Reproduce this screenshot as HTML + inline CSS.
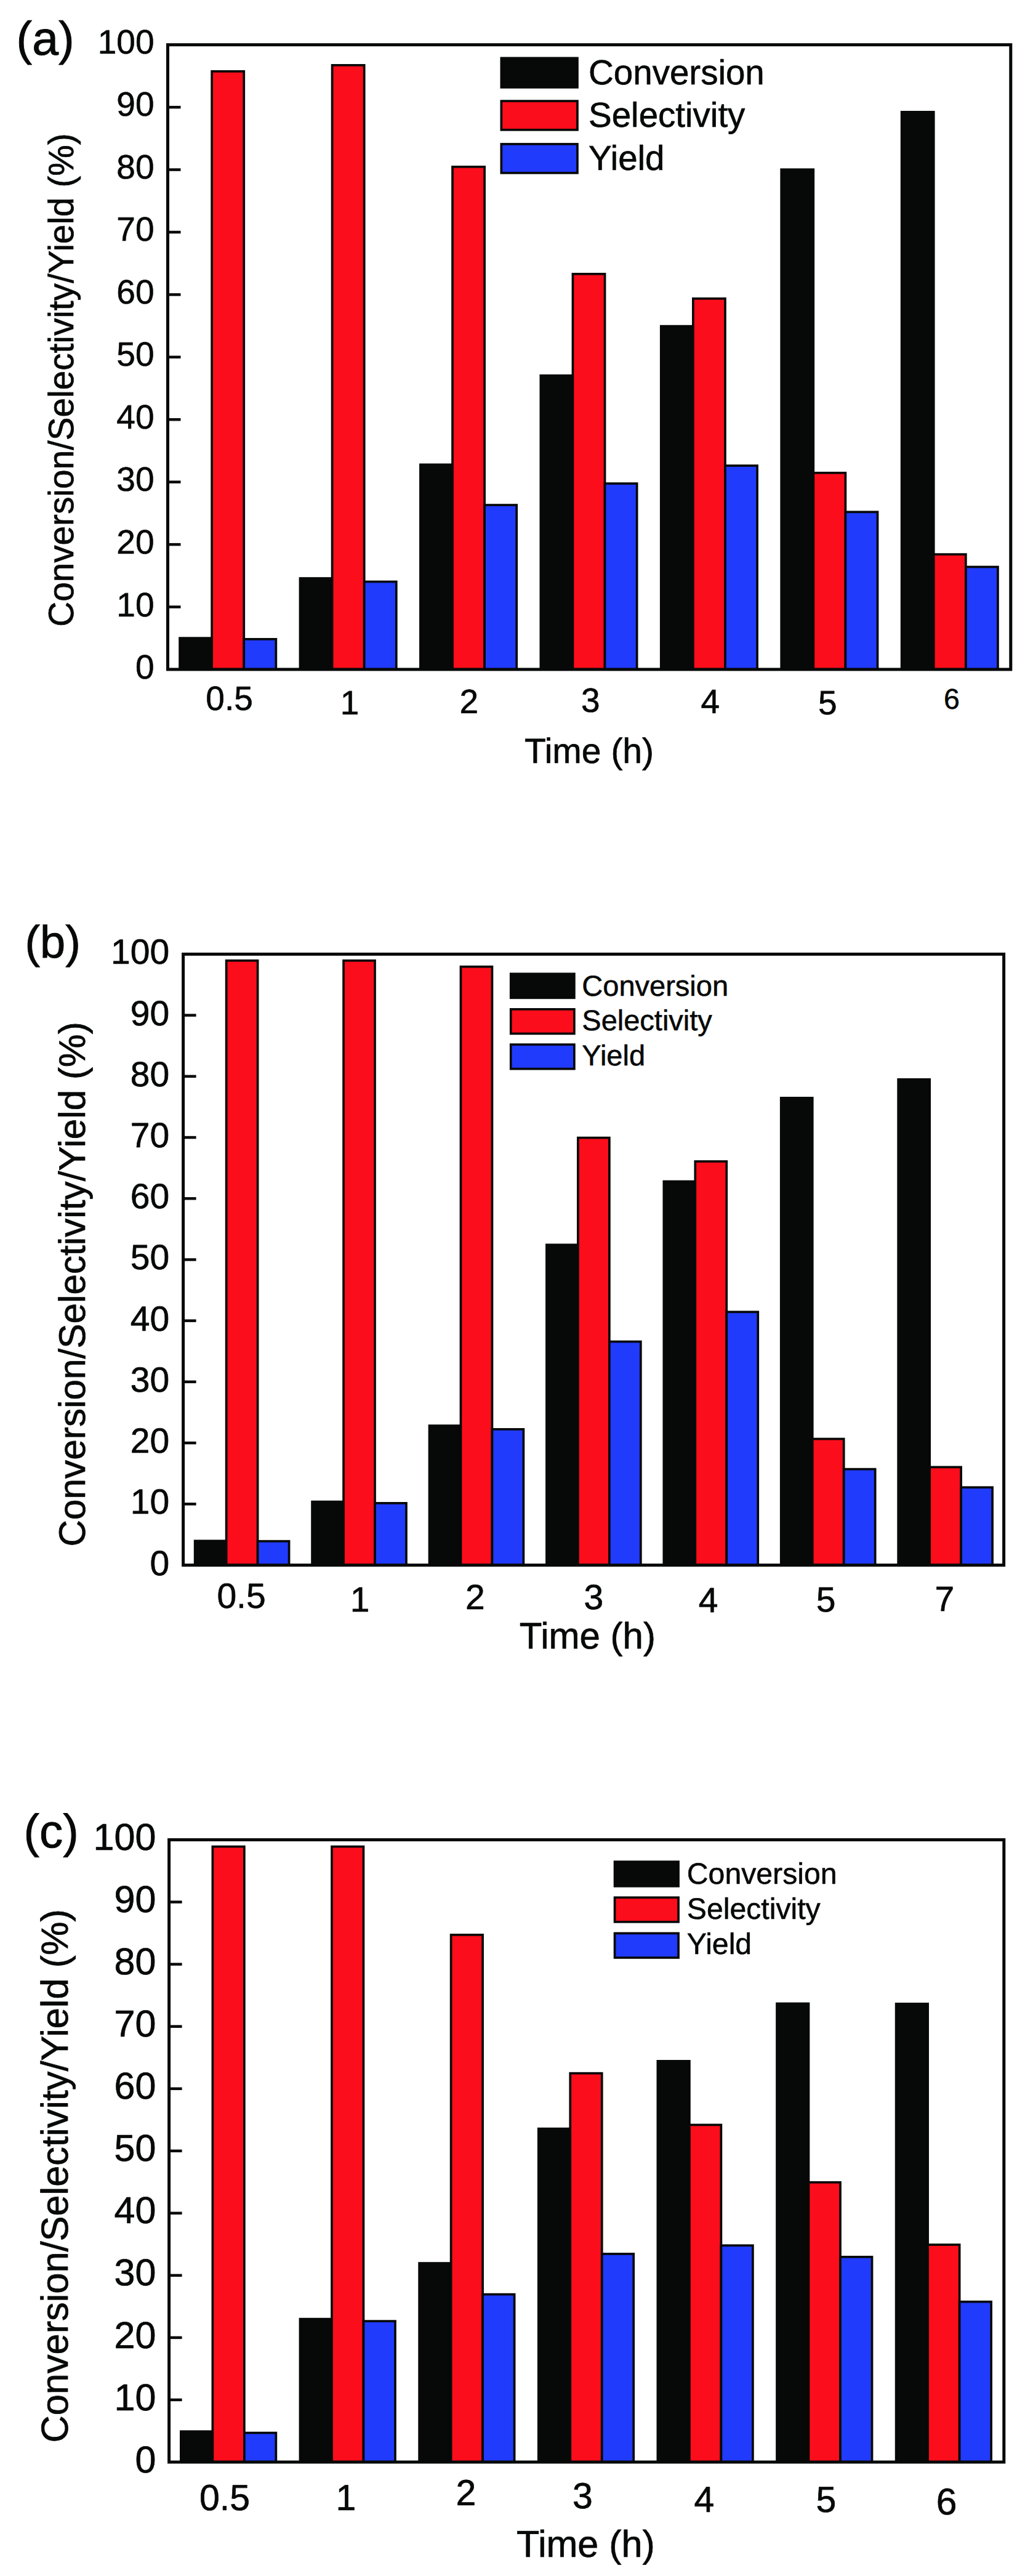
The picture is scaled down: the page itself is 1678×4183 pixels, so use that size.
<!DOCTYPE html>
<html lang="en"><head><meta charset="utf-8"><title>Conversion / Selectivity / Yield vs Time</title>
<style>
html,body{margin:0;padding:0;background:#fff;}
body{width:1678px;height:4183px;overflow:hidden;}
svg{display:block;}
svg text{text-rendering:geometricPrecision;font-family:"Liberation Sans", Arial, sans-serif;fill:#070908;stroke:#070908;stroke-width:0.012em;stroke-linejoin:round;}
</style></head><body>
<svg width="1678" height="4183" viewBox="0 0 1678 4183" shape-rendering="auto">
<rect x="0" y="0" width="1678" height="4183" fill="#ffffff"/>
<rect x="292.05" y="1036.15" width="52.10" height="50.85" fill="#070908" stroke="#070908" stroke-width="3.7"/>
<rect x="344.15" y="115.85" width="52.10" height="971.15" fill="#fc0d1b" stroke="#070908" stroke-width="3.7"/>
<rect x="396.25" y="1037.85" width="52.10" height="49.15" fill="#213bfd" stroke="#070908" stroke-width="3.7"/>
<rect x="487.48" y="939.05" width="52.10" height="147.95" fill="#070908" stroke="#070908" stroke-width="3.7"/>
<rect x="539.58" y="105.85" width="52.10" height="981.15" fill="#fc0d1b" stroke="#070908" stroke-width="3.7"/>
<rect x="591.68" y="944.55" width="52.10" height="142.45" fill="#213bfd" stroke="#070908" stroke-width="3.7"/>
<rect x="682.91" y="754.45" width="52.10" height="332.55" fill="#070908" stroke="#070908" stroke-width="3.7"/>
<rect x="735.01" y="270.85" width="52.10" height="816.15" fill="#fc0d1b" stroke="#070908" stroke-width="3.7"/>
<rect x="787.11" y="820.05" width="52.10" height="266.95" fill="#213bfd" stroke="#070908" stroke-width="3.7"/>
<rect x="878.34" y="609.85" width="52.10" height="477.15" fill="#070908" stroke="#070908" stroke-width="3.7"/>
<rect x="930.44" y="444.85" width="52.10" height="642.15" fill="#fc0d1b" stroke="#070908" stroke-width="3.7"/>
<rect x="982.54" y="785.15" width="52.10" height="301.85" fill="#213bfd" stroke="#070908" stroke-width="3.7"/>
<rect x="1073.77" y="529.65" width="52.10" height="557.35" fill="#070908" stroke="#070908" stroke-width="3.7"/>
<rect x="1125.87" y="484.85" width="52.10" height="602.15" fill="#fc0d1b" stroke="#070908" stroke-width="3.7"/>
<rect x="1177.97" y="756.15" width="52.10" height="330.85" fill="#213bfd" stroke="#070908" stroke-width="3.7"/>
<rect x="1269.20" y="275.25" width="52.10" height="811.75" fill="#070908" stroke="#070908" stroke-width="3.7"/>
<rect x="1321.30" y="767.85" width="52.10" height="319.15" fill="#fc0d1b" stroke="#070908" stroke-width="3.7"/>
<rect x="1373.40" y="831.35" width="52.10" height="255.65" fill="#213bfd" stroke="#070908" stroke-width="3.7"/>
<rect x="1464.63" y="181.85" width="52.10" height="905.15" fill="#070908" stroke="#070908" stroke-width="3.7"/>
<rect x="1516.73" y="900.15" width="52.10" height="186.85" fill="#fc0d1b" stroke="#070908" stroke-width="3.7"/>
<rect x="1568.83" y="920.55" width="52.10" height="166.45" fill="#213bfd" stroke="#070908" stroke-width="3.7"/>
<line x1="272.5" y1="985.57" x2="293.5" y2="985.57" stroke="#070908" stroke-width="4.5"/>
<line x1="272.5" y1="884.14" x2="293.5" y2="884.14" stroke="#070908" stroke-width="4.5"/>
<line x1="272.5" y1="782.71" x2="293.5" y2="782.71" stroke="#070908" stroke-width="4.5"/>
<line x1="272.5" y1="681.28" x2="293.5" y2="681.28" stroke="#070908" stroke-width="4.5"/>
<line x1="272.5" y1="579.85" x2="293.5" y2="579.85" stroke="#070908" stroke-width="4.5"/>
<line x1="272.5" y1="478.42" x2="293.5" y2="478.42" stroke="#070908" stroke-width="4.5"/>
<line x1="272.5" y1="376.99" x2="293.5" y2="376.99" stroke="#070908" stroke-width="4.5"/>
<line x1="272.5" y1="275.56" x2="293.5" y2="275.56" stroke="#070908" stroke-width="4.5"/>
<line x1="272.5" y1="174.13" x2="293.5" y2="174.13" stroke="#070908" stroke-width="4.5"/>
<rect x="272.5" y="72.7" width="1369.3" height="1014.3" fill="none" stroke="#070908" stroke-width="5"/>
<text x="250.5" y="1102.10" font-size="55" text-anchor="end">0</text>
<text x="250.5" y="1000.56" font-size="55" text-anchor="end">10</text>
<text x="250.5" y="899.02" font-size="55" text-anchor="end">20</text>
<text x="250.5" y="797.48" font-size="55" text-anchor="end">30</text>
<text x="250.5" y="695.94" font-size="55" text-anchor="end">40</text>
<text x="250.5" y="594.40" font-size="55" text-anchor="end">50</text>
<text x="250.5" y="492.86" font-size="55" text-anchor="end">60</text>
<text x="250.5" y="391.32" font-size="55" text-anchor="end">70</text>
<text x="250.5" y="289.78" font-size="55" text-anchor="end">80</text>
<text x="250.5" y="188.24" font-size="55" text-anchor="end">90</text>
<text x="250.5" y="86.70" font-size="55" text-anchor="end">100</text>
<text x="372.6" y="1152.5" font-size="55" text-anchor="middle">0.5</text>
<text x="568" y="1159.7" font-size="55" text-anchor="middle">1</text>
<text x="761.9" y="1157.6" font-size="55" text-anchor="middle">2</text>
<text x="959.4" y="1156" font-size="55" text-anchor="middle">3</text>
<text x="1153.8" y="1158.4" font-size="55" text-anchor="middle">4</text>
<text x="1344.4" y="1160" font-size="55" text-anchor="middle">5</text>
<text x="1546" y="1151" font-size="46.5" text-anchor="middle">6</text>
<text x="26.5" y="88.6" font-size="77">(a)</text>
<text x="852" y="1238.8" font-size="57">Time (h)</text>
<text transform="translate(118.8,1017.8) rotate(-90) scale(0.986,1)" font-size="57.5">Conversion/Selectivity/Yield (%)</text>
<rect x="814.35" y="94.35" width="123.60" height="47.50" fill="#070908" stroke="#070908" stroke-width="3.7"/>
<rect x="814.35" y="164.05" width="123.60" height="46.80" fill="#fc0d1b" stroke="#070908" stroke-width="3.7"/>
<rect x="814.35" y="233.95" width="123.60" height="46.90" fill="#213bfd" stroke="#070908" stroke-width="3.7"/>
<text x="956" y="136.7" font-size="56.5">Conversion</text>
<text x="956" y="206.4" font-size="56.5">Selectivity</text>
<text x="956" y="275.8" font-size="56.5">Yield</text>
<rect x="316.65" y="2502.15" width="50.97" height="39.35" fill="#070908" stroke="#070908" stroke-width="3.7"/>
<rect x="367.62" y="1559.85" width="50.97" height="981.65" fill="#fc0d1b" stroke="#070908" stroke-width="3.7"/>
<rect x="418.59" y="2502.65" width="50.97" height="38.85" fill="#213bfd" stroke="#070908" stroke-width="3.7"/>
<rect x="507.07" y="2438.55" width="50.97" height="102.95" fill="#070908" stroke="#070908" stroke-width="3.7"/>
<rect x="558.04" y="1559.85" width="50.97" height="981.65" fill="#fc0d1b" stroke="#070908" stroke-width="3.7"/>
<rect x="609.01" y="2440.85" width="50.97" height="100.65" fill="#213bfd" stroke="#070908" stroke-width="3.7"/>
<rect x="697.49" y="2315.05" width="50.97" height="226.45" fill="#070908" stroke="#070908" stroke-width="3.7"/>
<rect x="748.46" y="1569.75" width="50.97" height="971.75" fill="#fc0d1b" stroke="#070908" stroke-width="3.7"/>
<rect x="799.43" y="2320.85" width="50.97" height="220.65" fill="#213bfd" stroke="#070908" stroke-width="3.7"/>
<rect x="887.91" y="2021.35" width="50.97" height="520.15" fill="#070908" stroke="#070908" stroke-width="3.7"/>
<rect x="938.88" y="1847.55" width="50.97" height="693.95" fill="#fc0d1b" stroke="#070908" stroke-width="3.7"/>
<rect x="989.85" y="2178.55" width="50.97" height="362.95" fill="#213bfd" stroke="#070908" stroke-width="3.7"/>
<rect x="1078.33" y="1918.45" width="50.97" height="623.05" fill="#070908" stroke="#070908" stroke-width="3.7"/>
<rect x="1129.30" y="1885.95" width="50.97" height="655.55" fill="#fc0d1b" stroke="#070908" stroke-width="3.7"/>
<rect x="1180.27" y="2130.35" width="50.97" height="411.15" fill="#213bfd" stroke="#070908" stroke-width="3.7"/>
<rect x="1268.75" y="1782.85" width="50.97" height="758.65" fill="#070908" stroke="#070908" stroke-width="3.7"/>
<rect x="1319.72" y="2336.55" width="50.97" height="204.95" fill="#fc0d1b" stroke="#070908" stroke-width="3.7"/>
<rect x="1370.69" y="2385.65" width="50.97" height="155.85" fill="#213bfd" stroke="#070908" stroke-width="3.7"/>
<rect x="1459.17" y="1752.75" width="50.97" height="788.75" fill="#070908" stroke="#070908" stroke-width="3.7"/>
<rect x="1510.14" y="2382.35" width="50.97" height="159.15" fill="#fc0d1b" stroke="#070908" stroke-width="3.7"/>
<rect x="1561.11" y="2415.25" width="50.97" height="126.25" fill="#213bfd" stroke="#070908" stroke-width="3.7"/>
<line x1="297.6" y1="2442.29" x2="318.6" y2="2442.29" stroke="#070908" stroke-width="4.5"/>
<line x1="297.6" y1="2343.08" x2="318.6" y2="2343.08" stroke="#070908" stroke-width="4.5"/>
<line x1="297.6" y1="2243.87" x2="318.6" y2="2243.87" stroke="#070908" stroke-width="4.5"/>
<line x1="297.6" y1="2144.66" x2="318.6" y2="2144.66" stroke="#070908" stroke-width="4.5"/>
<line x1="297.6" y1="2045.45" x2="318.6" y2="2045.45" stroke="#070908" stroke-width="4.5"/>
<line x1="297.6" y1="1946.24" x2="318.6" y2="1946.24" stroke="#070908" stroke-width="4.5"/>
<line x1="297.6" y1="1847.03" x2="318.6" y2="1847.03" stroke="#070908" stroke-width="4.5"/>
<line x1="297.6" y1="1747.82" x2="318.6" y2="1747.82" stroke="#070908" stroke-width="4.5"/>
<line x1="297.6" y1="1648.61" x2="318.6" y2="1648.61" stroke="#070908" stroke-width="4.5"/>
<rect x="297.6" y="1549.4" width="1333.0" height="992.0999999999999" fill="none" stroke="#070908" stroke-width="5"/>
<text x="275.2" y="2557.50" font-size="57" text-anchor="end">0</text>
<text x="275.2" y="2458.29" font-size="57" text-anchor="end">10</text>
<text x="275.2" y="2359.08" font-size="57" text-anchor="end">20</text>
<text x="275.2" y="2259.87" font-size="57" text-anchor="end">30</text>
<text x="275.2" y="2160.66" font-size="57" text-anchor="end">40</text>
<text x="275.2" y="2061.45" font-size="57" text-anchor="end">50</text>
<text x="275.2" y="1962.24" font-size="57" text-anchor="end">60</text>
<text x="275.2" y="1863.03" font-size="57" text-anchor="end">70</text>
<text x="275.2" y="1763.82" font-size="57" text-anchor="end">80</text>
<text x="275.2" y="1664.61" font-size="57" text-anchor="end">90</text>
<text x="275.2" y="1565.40" font-size="57" text-anchor="end">100</text>
<text x="392" y="2611" font-size="57" text-anchor="middle">0.5</text>
<text x="584.6" y="2616.5" font-size="57" text-anchor="middle">1</text>
<text x="771.8" y="2613" font-size="57" text-anchor="middle">2</text>
<text x="964.3" y="2613" font-size="57" text-anchor="middle">3</text>
<text x="1150.5" y="2618" font-size="57" text-anchor="middle">4</text>
<text x="1341.7" y="2617" font-size="57" text-anchor="middle">5</text>
<text x="1534.4" y="2615.6" font-size="57" text-anchor="middle">7</text>
<text x="40.4" y="1554.5" font-size="74">(b)</text>
<text x="843.8" y="2677" font-size="60">Time (h)</text>
<text transform="translate(137.8,2511.5) rotate(-90) scale(1,1)" font-size="60.3">Conversion/Selectivity/Yield (%)</text>
<rect x="829.75" y="1581.35" width="103.10" height="39.00" fill="#070908" stroke="#070908" stroke-width="3.7"/>
<rect x="829.75" y="1638.85" width="103.10" height="39.60" fill="#fc0d1b" stroke="#070908" stroke-width="3.7"/>
<rect x="829.75" y="1696.15" width="103.10" height="39.50" fill="#213bfd" stroke="#070908" stroke-width="3.7"/>
<text x="945.3" y="1617.2" font-size="47">Conversion</text>
<text x="945.3" y="1672.9" font-size="47">Selectivity</text>
<text x="945.3" y="1729.8" font-size="47">Yield</text>
<rect x="293.85" y="3948.25" width="51.50" height="49.75" fill="#070908" stroke="#070908" stroke-width="3.7"/>
<rect x="345.35" y="2998.55" width="51.50" height="999.45" fill="#fc0d1b" stroke="#070908" stroke-width="3.7"/>
<rect x="396.85" y="3950.55" width="51.50" height="47.45" fill="#213bfd" stroke="#070908" stroke-width="3.7"/>
<rect x="487.48" y="3765.65" width="51.50" height="232.35" fill="#070908" stroke="#070908" stroke-width="3.7"/>
<rect x="538.98" y="2998.55" width="51.50" height="999.45" fill="#fc0d1b" stroke="#070908" stroke-width="3.7"/>
<rect x="590.48" y="3769.15" width="51.50" height="228.85" fill="#213bfd" stroke="#070908" stroke-width="3.7"/>
<rect x="681.11" y="3675.05" width="51.50" height="322.95" fill="#070908" stroke="#070908" stroke-width="3.7"/>
<rect x="732.61" y="3141.85" width="51.50" height="856.15" fill="#fc0d1b" stroke="#070908" stroke-width="3.7"/>
<rect x="784.11" y="3725.65" width="51.50" height="272.35" fill="#213bfd" stroke="#070908" stroke-width="3.7"/>
<rect x="874.74" y="3456.65" width="51.50" height="541.35" fill="#070908" stroke="#070908" stroke-width="3.7"/>
<rect x="926.24" y="3366.65" width="51.50" height="631.35" fill="#fc0d1b" stroke="#070908" stroke-width="3.7"/>
<rect x="977.74" y="3659.95" width="51.50" height="338.05" fill="#213bfd" stroke="#070908" stroke-width="3.7"/>
<rect x="1068.37" y="3346.85" width="51.50" height="651.15" fill="#070908" stroke="#070908" stroke-width="3.7"/>
<rect x="1119.87" y="3450.45" width="51.50" height="547.55" fill="#fc0d1b" stroke="#070908" stroke-width="3.7"/>
<rect x="1171.37" y="3646.25" width="51.50" height="351.75" fill="#213bfd" stroke="#070908" stroke-width="3.7"/>
<rect x="1262.00" y="3253.45" width="51.50" height="744.55" fill="#070908" stroke="#070908" stroke-width="3.7"/>
<rect x="1313.50" y="3543.75" width="51.50" height="454.25" fill="#fc0d1b" stroke="#070908" stroke-width="3.7"/>
<rect x="1365.00" y="3664.85" width="51.50" height="333.15" fill="#213bfd" stroke="#070908" stroke-width="3.7"/>
<rect x="1455.63" y="3253.85" width="51.50" height="744.15" fill="#070908" stroke="#070908" stroke-width="3.7"/>
<rect x="1507.13" y="3645.05" width="51.50" height="352.95" fill="#fc0d1b" stroke="#070908" stroke-width="3.7"/>
<rect x="1558.63" y="3737.65" width="51.50" height="260.35" fill="#213bfd" stroke="#070908" stroke-width="3.7"/>
<line x1="274.6" y1="3896.95" x2="295.6" y2="3896.95" stroke="#070908" stroke-width="4.5"/>
<line x1="274.6" y1="3795.90" x2="295.6" y2="3795.90" stroke="#070908" stroke-width="4.5"/>
<line x1="274.6" y1="3694.85" x2="295.6" y2="3694.85" stroke="#070908" stroke-width="4.5"/>
<line x1="274.6" y1="3593.80" x2="295.6" y2="3593.80" stroke="#070908" stroke-width="4.5"/>
<line x1="274.6" y1="3492.75" x2="295.6" y2="3492.75" stroke="#070908" stroke-width="4.5"/>
<line x1="274.6" y1="3391.70" x2="295.6" y2="3391.70" stroke="#070908" stroke-width="4.5"/>
<line x1="274.6" y1="3290.65" x2="295.6" y2="3290.65" stroke="#070908" stroke-width="4.5"/>
<line x1="274.6" y1="3189.60" x2="295.6" y2="3189.60" stroke="#070908" stroke-width="4.5"/>
<line x1="274.6" y1="3088.55" x2="295.6" y2="3088.55" stroke="#070908" stroke-width="4.5"/>
<rect x="274.6" y="2987.5" width="1356.1999999999998" height="1010.5" fill="none" stroke="#070908" stroke-width="5"/>
<text x="253.4" y="4014.60" font-size="61" text-anchor="end">0</text>
<text x="253.4" y="3913.55" font-size="61" text-anchor="end">10</text>
<text x="253.4" y="3812.50" font-size="61" text-anchor="end">20</text>
<text x="253.4" y="3711.45" font-size="61" text-anchor="end">30</text>
<text x="253.4" y="3610.40" font-size="61" text-anchor="end">40</text>
<text x="253.4" y="3509.35" font-size="61" text-anchor="end">50</text>
<text x="253.4" y="3408.30" font-size="61" text-anchor="end">60</text>
<text x="253.4" y="3307.25" font-size="61" text-anchor="end">70</text>
<text x="253.4" y="3206.20" font-size="61" text-anchor="end">80</text>
<text x="253.4" y="3105.15" font-size="61" text-anchor="end">90</text>
<text x="253.4" y="3004.10" font-size="61" text-anchor="end">100</text>
<text x="365" y="4075.8" font-size="59" text-anchor="middle">0.5</text>
<text x="562" y="4075.8" font-size="59" text-anchor="middle">1</text>
<text x="757" y="4068.4" font-size="59" text-anchor="middle">2</text>
<text x="946.4" y="4073" font-size="59" text-anchor="middle">3</text>
<text x="1143.8" y="4078.5" font-size="59" text-anchor="middle">4</text>
<text x="1341.8" y="4078.6" font-size="59" text-anchor="middle">5</text>
<text x="1537.5" y="4083" font-size="60.5" text-anchor="middle">6</text>
<text x="38.5" y="3000.3" font-size="76.5">(c)</text>
<text x="839" y="4152" font-size="61">Time (h)</text>
<text transform="translate(110.2,3966.5) rotate(-90) scale(1,1)" font-size="61.3">Conversion/Selectivity/Yield (%)</text>
<rect x="998.55" y="3023.15" width="103.50" height="39.70" fill="#070908" stroke="#070908" stroke-width="3.7"/>
<rect x="998.55" y="3081.25" width="103.50" height="39.60" fill="#fc0d1b" stroke="#070908" stroke-width="3.7"/>
<rect x="998.55" y="3139.35" width="103.50" height="39.60" fill="#213bfd" stroke="#070908" stroke-width="3.7"/>
<text x="1115.8" y="3059.2" font-size="48.2">Conversion</text>
<text x="1115.8" y="3116.2" font-size="48.2">Selectivity</text>
<text x="1115.8" y="3173.1" font-size="48.2">Yield</text>
</svg>
</body></html>
